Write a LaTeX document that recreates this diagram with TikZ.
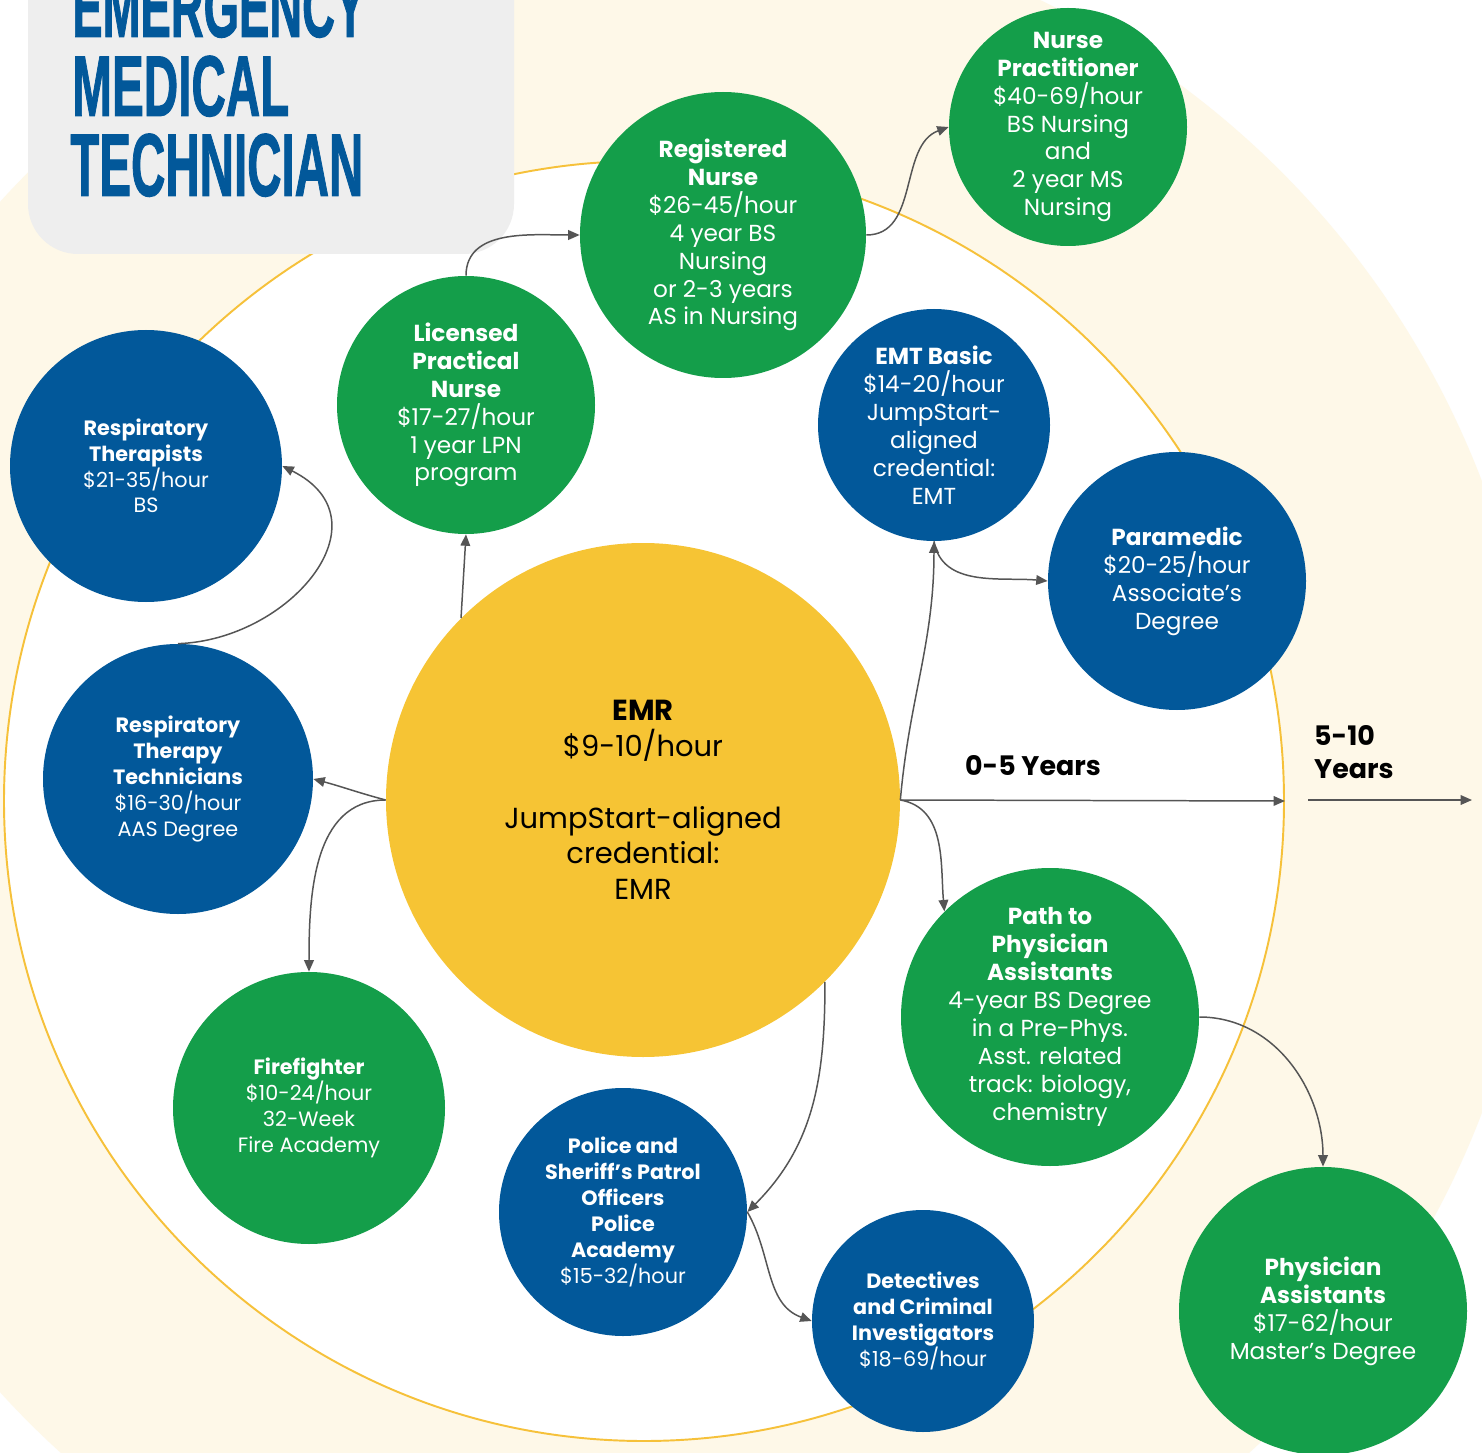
\documentclass[tikz,border=0pt]{standalone}
\usepackage{fontspec}
\setmainfont{Poppins}
\newfontface\titleface{Liberation Sans Bold}[FakeBold=1.5]
\usetikzlibrary{arrows.meta}
\usepackage{graphicx}

\definecolor{jobgreen}{HTML}{149E4A}
\definecolor{jobblue}{HTML}{02589A}
\definecolor{emryellow}{HTML}{F6C434}
\definecolor{ringyellow}{HTML}{F6C13A}
\definecolor{creamband}{HTML}{FEF8E8}
\definecolor{titlegray}{HTML}{EEEEEE}
\definecolor{flowgray}{HTML}{555555}

\tikzset{
  dia/.style={minimum size=#1*0.02cm},
  job/.style={circle, inner sep=0pt, text=white, align=center},
  greenjob/.style={job, fill=jobgreen},
  bluejob/.style={job, fill=jobblue},
  bigtext/.style={font=\fontsize{13.2}{15.9}\selectfont},
  smalltext/.style={font=\fontsize{11.8}{14.7}\selectfont},
  yearstext/.style={font=\fontsize{15.3}{18.7}\selectfont\bfseries},
  flow/.style={draw=flowgray, line width=0.85pt, -{Triangle[length=6.5pt,width=5.5pt]}}
}

\begin{document}
\begin{tikzpicture}[x=0.02cm, y=0.02cm]
            \useasboundingbox (0,0) rectangle (1482,-1453);
            \clip (0,0) rectangle (1482,-1453);
            % Background bands
            \fill[white] (0,0) rectangle (1482,-1453);
            \fill[creamband] (655,-797) circle (885);
            \node[circle, draw=ringyellow, line width=1.1pt, fill=white, dia=1280] (ring) at (644,-801) {};
            
            % Title box
            \fill[titlegray, rounded corners=1cm] (28,100) rectangle (514,-254);
            \node[anchor=south west, inner sep=0pt, text=jobblue] (emergency) at (72,-38) {\resizebox{5.86cm}{1.2cm}{\titleface EMERGENCY}};
            \node[anchor=south west, inner sep=0pt, text=jobblue] (medical) at (72,-117) {\resizebox{4.34cm}{1.2cm}{\titleface MEDICAL}};
            \node[anchor=south west, inner sep=0pt, text=jobblue] (technician) at (70,-197) {\resizebox{5.86cm}{1.24cm}{\titleface TECHNICIAN}};
            
            % Entry level
            \node[circle, fill=emryellow, dia=514, inner sep=0pt, align=center, font=\fontsize{16.5}{20.4}\selectfont] (emr) at (643,-800) {\textbf{EMR}\\\$9-10/hour\\[20.4pt]JumpStart-aligned\\credential:\\EMR};
            
            % Nursing path
            \node[greenjob, bigtext, dia=258] (lpn) at (466,-405) {\textbf{Licensed}\\\textbf{Practical}\\\textbf{Nurse}\\\$17-27/hour\\1 year LPN\\program};
            \node[greenjob, bigtext, dia=286] (rn) at (723,-235) {\textbf{Registered}\\\textbf{Nurse}\\\$26-45/hour\\4 year BS\\Nursing\\or 2-3 years\\AS in Nursing};
            \node[greenjob, bigtext, dia=238, inner sep=-4pt] (np) at (1068,-127) {\textbf{Nurse}\\\textbf{Practitioner}\\\$40-69/hour\\BS Nursing\\and\\2 year MS\\Nursing};
            
            % EMT path
            \node[bluejob, bigtext, dia=232] (emt) at (934,-425) {\textbf{EMT Basic}\\\$14-20/hour\\JumpStart-\\aligned\\credential:\\EMT};
            \node[bluejob, bigtext, dia=258] (para) at (1177,-581) {\textbf{Paramedic}\\\$20-25/hour\\Associate’s\\Degree};
            
            % Respiratory path
            \node[bluejob, smalltext, dia=272] (rt) at (146,-466) {\textbf{Respiratory}\\\textbf{Therapists}\\\$21-35/hour\\BS};
            \node[bluejob, smalltext, dia=270] (rtt) at (178,-779) {\textbf{Respiratory}\\\textbf{Therapy}\\\textbf{Technicians}\\\$16-30/hour\\AAS Degree};
            
            % Fire and police path
            \node[greenjob, smalltext, dia=272] (ff) at (309,-1108) {\textbf{Firefighter}\\\$10-24/hour\\32-Week\\Fire Academy};
            \node[bluejob, smalltext, dia=248] (police) at (623,-1212) {\textbf{Police and}\\\textbf{Sheriff’s Patrol}\\\textbf{Officers}\\\textbf{Police}\\\textbf{Academy}\\\$15-32/hour};
            \node[bluejob, smalltext, dia=222] (det) at (923,-1321) {\textbf{Detectives}\\\textbf{and Criminal}\\\textbf{Investigators}\\\$18-69/hour};
            
            % Physician assistant path
            \node[greenjob, bigtext, dia=298] (pathpa) at (1050,-1017) {\textbf{Path to}\\\textbf{Physician}\\\textbf{Assistants}\\4-year BS Degree\\in a Pre-Phys.\\Asst. related\\track: biology,\\chemistry};
            \node[greenjob, bigtext, dia=288] (pa) at (1323,-1311) {\textbf{Physician}\\\textbf{Assistants}\\\$17-62/hour\\Master’s Degree};
            
            % Time scale
            \coordinate (tenstart) at (1308,-800);
            \coordinate (tenend) at (1472,-800);
            \node[yearstext] (early) at (1033,-766) {0-5 Years};
            \node[yearstext, align=left, anchor=west] (late) at (1308,-752) {5-10\\ Years};
            
            \draw[flow] (emr.east) -- (ring.east);
            \draw[flow] (tenstart) -- (tenend);
            
            % Career moves
            \draw[flow] (emr.135) -- (lpn.south);
            \draw[flow] (lpn.north) to[out=90,in=180] (rn.west);
            \draw[flow] (rn.east) to[out=0,in=200] (np.west);
            \draw[flow] (emr.east) to[out=85,in=-90] (emt.south);
            \draw[flow] (emt.south) to[out=-80,in=175] (para.west);
            \draw[flow] (emr.east) to[out=-10,in=95] (pathpa.135);
            \draw[flow] (pathpa.east) to[out=0,in=90] (pa.north);
            \draw[flow] (emr.-45) to[out=-90,in=45] (police.east);
            \draw[flow] (police.east) to[out=-60,in=160] (det.west);
            \draw[flow] (emr.west) to[out=165,in=-15] (rtt.east);
            \draw[flow] (emr.west) to[out=180,in=90] (ff.north);
            \draw[flow] (rtt.north) .. controls (290,-640) and (390,-520) .. (rt.east);
        \end{tikzpicture}
\end{document}
